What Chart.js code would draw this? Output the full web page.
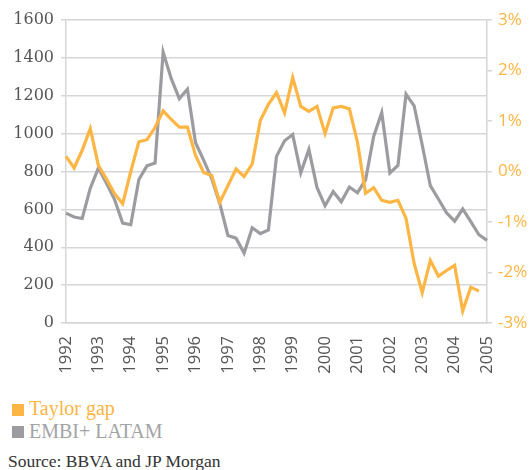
<!doctype html>
<html>
<head>
<meta charset="utf-8">
<title>Taylor gap and EMBI+ LATAM</title>
<script src="https://cdn.jsdelivr.net/npm/chart.js@4.4.1/dist/chart.umd.min.js"></script>
<style>
  body { margin: 0; background: #fff; }
  #wrap { position: relative; width: 531px; height: 470px; }
  #chart-holder { position: absolute; left: 0; top: 0; width: 531px; height: 385px; }
  .key { position: absolute; left: 12px; width: 12px; height: 12px; }
  .lbl { position: absolute; left: 29px; font-family: "Liberation Serif", "Times New Roman", serif; font-size: 20px; line-height: 20px; white-space: nowrap; }
  #source { position: absolute; left: 8px; top: 452px; font-family: "Liberation Serif", "Times New Roman", serif; font-size: 17.5px; line-height: 18px; color: #333; white-space: nowrap; }
</style>
</head>
<body>
<div id="wrap">
  <div id="chart-holder"><canvas id="chart-area"></canvas></div>
  <div class="key" style="top:404px;background:#FDB544"></div>
  <div class="lbl" style="top:398px;color:#FDB544">Taylor gap</div>
  <div class="key" style="top:426px;background:#9C9CA0"></div>
  <div class="lbl" style="top:421px;color:#A3A3A6">EMBI+ LATAM</div>
  <div id="source">Source: BBVA and JP Morgan</div>
</div>
<script>
// quarterly observations, 1992 Q1 - 2005 Q1
var quarters = [
  '1992 Q1', '1992 Q2', '1992 Q3', '1992 Q4',
  '1993 Q1', '1993 Q2', '1993 Q3', '1993 Q4',
  '1994 Q1', '1994 Q2', '1994 Q3', '1994 Q4',
  '1995 Q1', '1995 Q2', '1995 Q3', '1995 Q4',
  '1996 Q1', '1996 Q2', '1996 Q3', '1996 Q4',
  '1997 Q1', '1997 Q2', '1997 Q3', '1997 Q4',
  '1998 Q1', '1998 Q2', '1998 Q3', '1998 Q4',
  '1999 Q1', '1999 Q2', '1999 Q3', '1999 Q4',
  '2000 Q1', '2000 Q2', '2000 Q3', '2000 Q4',
  '2001 Q1', '2001 Q2', '2001 Q3', '2001 Q4',
  '2002 Q1', '2002 Q2', '2002 Q3', '2002 Q4',
  '2003 Q1', '2003 Q2', '2003 Q3', '2003 Q4',
  '2004 Q1', '2004 Q2', '2004 Q3', '2004 Q4',
  '2005 Q1'
];

// Taylor gap, % (right axis)
var taylorGap = [
  0.30, 0.07, 0.42, 0.85, 0.12, -0.15, -0.44, -0.64, 0.00, 0.59,
  0.63, 0.87, 1.20, 1.03, 0.88, 0.88, 0.32, -0.02, -0.08, -0.61,
  -0.28, 0.05, -0.10, 0.15, 1.01, 1.33, 1.56, 1.16, 1.86, 1.29,
  1.19, 1.29, 0.75, 1.26, 1.29, 1.24, 0.58, -0.43, -0.32, -0.57,
  -0.61, -0.57, -0.93, -1.82, -2.40, -1.76, -2.07, -1.96, -1.86, -2.76,
  -2.29, -2.37, null
];

// EMBI+ LATAM spread, bp (left axis)
var embiLatam = [
  580, 560, 552, 712, 818, 738, 652, 528, 519, 758,
  830, 845, 1430, 1290, 1185, 1235, 952, 860, 762, 630,
  462, 448, 369, 503, 472, 492, 880, 962, 995, 793,
  916, 716, 619, 694, 640, 718, 688, 756, 985, 1112,
  792, 832, 1208, 1147, 940, 725, 655, 582, 538, 602,
  535, 466, 436
];

var orange = '#FDB544';
var grey = '#9C9CA0';
var gridGrey = '#D6D6D6';

var config = {
  type: 'line',
  data: {
    labels: quarters,
    datasets: [{
      label: 'Taylor gap',
      data: taylorGap,
      yAxisID: 'yRight',
      borderColor: orange,
      borderWidth: 3.2,
      pointRadius: 0,
      tension: 0
    }, {
      label: 'EMBI+ LATAM',
      data: embiLatam,
      yAxisID: 'yLeft',
      borderColor: grey,
      borderWidth: 3.2,
      pointRadius: 0,
      tension: 0
    }]
  },
  options: {
    responsive: true,
    maintainAspectRatio: false,
    animation: false,
    layout: { padding: { top: 20, left: 0, right: 0, bottom: 0 } },
    plugins: {
      legend: { display: false },
      tooltip: { enabled: false }
    },
    scales: {
      x: {
        grid: { display: false, drawTicks: false },
        border: { display: true, color: gridGrey, width: 1.5 },
        ticks: {
          autoSkip: false,
          minRotation: 90,
          maxRotation: 90,
          padding: 13,
          color: '#555',
          font: { family: 'Open Sans', size: 16.5 },
          callback: function(value, index) {
            var q = quarters[index];
            return q.slice(5) === 'Q1' ? q.slice(0, 4) : '';
          }
        },
        afterFit: function(scale) { scale.height = 62; }
      },
      yLeft: {
        position: 'left',
        min: 0,
        max: 1600,
        ticks: {
          stepSize: 200,
          padding: 7,
          color: '#555',
          font: { family: 'DejaVu Serif', size: 16 },
          callback: function(v) { return String(v); }
        },
        grid: { color: gridGrey, lineWidth: 1.5, tickLength: 5 },
        border: { display: true, color: gridGrey, width: 1.5 },
        afterFit: function(scale) { scale.width = 66; }
      },
      yRight: {
        position: 'right',
        min: -3,
        max: 3,
        ticks: {
          stepSize: 1,
          padding: 6,
          color: orange,
          font: { family: 'Open Sans', size: 17 },
          callback: function(v) { return v + '%'; }
        },
        grid: { drawOnChartArea: false, color: gridGrey, lineWidth: 1.5, tickLength: 5 },
        border: { display: true, color: gridGrey, width: 1.5 },
        afterFit: function(scale) { scale.width = 44; }
      }
    }
  }
};

window.onload = function() {
  var ctx = document.getElementById('chart-area').getContext('2d');
  window.myLine = new Chart(ctx, config);
};
</script>
</body>
</html>
